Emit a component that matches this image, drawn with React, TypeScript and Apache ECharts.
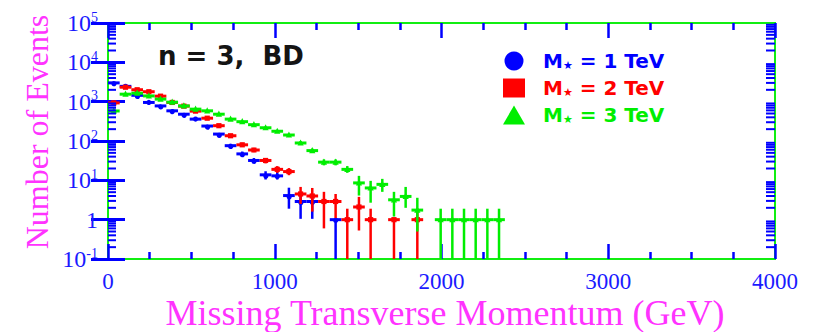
import React, { useEffect, useRef } from 'react';
import * as echarts from 'echarts';

// x-axis (Missing Transverse Momentum, GeV)
const xMin = 0;
const xMax = 4000;
const xInterval = 1000;
// y-axis (Number of Events, log scale)
const yMin = 0.1;
const yMax = 100000;
const logDecades = [0.1, 1, 10, 100, 1000, 10000];
const logMinorMantissas = [2, 3, 4, 5, 6, 7, 8, 9];
const halfBinWidth = 35;

// each point: [bin centre (GeV), events, error low, error high]; error low 0 = bar reaches the bottom
const pointsM1TeV = [
  [35, 3000, 3000, 3000],
  [105, 2450, 2450, 2450],
  [175, 1450, 1450, 1450],
  [245, 955, 955, 955],
  [315, 780, 780, 780],
  [385, 585, 585, 585],
  [455, 480, 480, 480],
  [525, 360, 360, 360],
  [595, 240, 240, 240],
  [665, 150, 150, 150],
  [735, 76, 68, 85],
  [805, 47, 41, 54],
  [875, 32, 27, 37],
  [945, 13.8, 10.5, 17],
  [1015, 13, 10.5, 16.5],
  [1085, 4.1, 1.9, 6.5],
  [1155, 2.9, 1.05, 4.5],
  [1225, 2.9, 1.05, 4.3],
  [1365, 1, 0, 1],
];

const pointsM2TeV = [
  [35, 930, 930, 930],
  [105, 2330, 2330, 2330],
  [175, 2010, 2010, 2010],
  [245, 1790, 1790, 1790],
  [315, 1380, 1380, 1380],
  [385, 955, 955, 955],
  [455, 770, 770, 770],
  [525, 575, 575, 575],
  [595, 380, 380, 380],
  [665, 245, 245, 245],
  [735, 136, 136, 136],
  [805, 80, 72, 90],
  [875, 59, 52, 67],
  [945, 32, 27, 37],
  [1015, 19, 15.5, 23],
  [1085, 16.7, 13.5, 20.5],
  [1155, 4.5, 2.5, 6.8],
  [1225, 4.0, 1.6, 6.4],
  [1295, 2.9, 0.6, 5.1],
  [1365, 2.9, 1.1, 4.5],
  [1435, 1, 0, 1.9],
  [1505, 2.1, 0.53, 3.8],
  [1575, 1, 0, 1.9],
  [1715, 1, 0, 1],
  [1855, 1, 0, 1.9],
];

const pointsM3TeV = [
  [35, 580, 580, 580],
  [105, 1550, 1550, 1550],
  [175, 1640, 1640, 1640],
  [245, 1400, 1400, 1400],
  [315, 1160, 1160, 1160],
  [385, 970, 970, 970],
  [455, 780, 780, 780],
  [525, 645, 645, 645],
  [595, 585, 585, 585],
  [665, 480, 480, 480],
  [735, 360, 360, 360],
  [805, 310, 310, 310],
  [875, 260, 260, 260],
  [945, 217, 217, 217],
  [1015, 177, 177, 177],
  [1085, 142, 142, 142],
  [1155, 89, 80, 99],
  [1225, 57, 50, 64],
  [1295, 29, 24, 34],
  [1365, 29, 24, 34],
  [1435, 19, 15.5, 23],
  [1505, 8.6, 4.1, 13],
  [1575, 6.4, 2.7, 9.7],
  [1645, 7.9, 5.1, 10.9],
  [1715, 3.2, 1.2, 5.1],
  [1785, 3.9, 2.0, 6.8],
  [1855, 1.75, 0.5, 3.6],
  [1995, 1, 0, 1.9],
  [2065, 1, 0, 1.9],
  [2135, 1, 0, 1.9],
  [2205, 1, 0, 1.9],
  [2275, 1, 0, 1.9],
  [2345, 1, 0, 1.9],
];

const seriesNames = ['M1', 'M2', 'M3'];
const legendValues = ['1 TeV', '2 TeV', '3 TeV'];
const seriesColors = ['#0000ff', '#ff0000', '#00ee00'];
const seriesSymbols = ['circle', 'rect', 'triangle'];
const seriesPoints = [pointsM1TeV, pointsM2TeV, pointsM3TeV];

const BLUE = '#0000ff';
const LABEL_BLUE = '#1a1aff';
const MAGENTA = '#ff33ff';
const FRAME_GREEN = '#11ee11';

function makeErrorRender(symbol: string) {
  return (params: any, api: any) => {
    const cs = params.coordSys;
    const bottom = cs.y + cs.height;
    const x = api.value(0);
    const y = api.value(1);
    const lo = api.value(2);
    const hi = api.value(3);
    const c = api.coord([x, y]);
    const l = api.coord([x - halfBinWidth, y]);
    const r = api.coord([x + halfBinWidth, y]);
    const yLo = lo > 0 ? api.coord([x, lo])[1] : bottom;
    const yHi = hi > 0 ? api.coord([x, hi])[1] : c[1];
    const color = api.visual('color');
    const children: any[] = [
      { type: 'line', shape: { x1: l[0], y1: c[1], x2: r[0], y2: c[1] }, style: { stroke: color, lineWidth: 3 } },
    ];
    if (Math.abs(yLo - yHi) > 0.5) {
      children.push({ type: 'line', shape: { x1: c[0], y1: yHi, x2: c[0], y2: yLo }, style: { stroke: color, lineWidth: 2.5 } });
    }
    const s = 2.6;
    if (symbol === 'circle') {
      children.push({ type: 'circle', shape: { cx: c[0], cy: c[1], r: s }, style: { fill: color } });
    } else if (symbol === 'rect') {
      children.push({ type: 'rect', shape: { x: c[0] - s, y: c[1] - s, width: 2 * s, height: 2 * s }, style: { fill: color } });
    } else {
      children.push({
        type: 'polygon',
        shape: { points: [[c[0], c[1] - s - 1], [c[0] - s - 0.5, c[1] + s], [c[0] + s + 0.5, c[1] + s]] },
        style: { fill: color },
      });
    }
    return { type: 'group', children };
  };
}

export default function App() {
  const ref = useRef<HTMLDivElement>(null);

  useEffect(() => {
    if (!ref.current) return;
    const chart = echarts.init(ref.current, undefined, { renderer: 'svg' });

    const minorTickValues: number[][] = [];
    logDecades.forEach((d) => logMinorMantissas.forEach((m) => minorTickValues.push([0, d * m])));

    const xAxisCommon = {
      type: 'value',
      min: xMin,
      max: xMax,
      interval: xInterval,
      splitLine: { show: false },
      axisLine: { show: false },
      axisTick: { show: true, inside: true, length: 15, lineStyle: { color: BLUE, width: 2.5 } },
      minorTick: { show: true, splitNumber: 4, length: 7, lineStyle: { color: BLUE, width: 2.5 } },
    };
    const yAxisCommon = {
      type: 'log',
      logBase: 10,
      min: yMin,
      max: yMax,
      splitNumber: 6,
      splitLine: { show: false },
      axisLine: { show: false },
      axisTick: { show: true, inside: true, length: 17, lineStyle: { color: BLUE, width: 3 } },
    };

    const option: any = {
      animation: false,
      grid: { left: 108, right: 39, top: 23, bottom: 73, show: true, borderColor: FRAME_GREEN, borderWidth: 2, backgroundColor: 'transparent' },
      xAxis: [
        {
          ...xAxisCommon,
          position: 'bottom',
          axisLabel: {
            color: LABEL_BLUE,
            fontFamily: 'Liberation Serif',
            fontSize: 23,
            margin: 11,
            lineHeight: 22,
            formatter: (v: number) => String(v),
          },
        },
        { ...xAxisCommon, position: 'top', axisLabel: { show: false } },
      ],
      yAxis: [
        {
          ...yAxisCommon,
          position: 'left',
          axisLabel: {
            margin: 10,
            formatter: (v: number) => {
              const e = Math.round(Math.log10(v));
              if (e === 0) return '{b|1}';
              return `{b|10}{s|${e}}`;
            },
            rich: {
              b: { fontFamily: 'Liberation Serif', fontSize: 24, color: LABEL_BLUE, lineHeight: 26 },
              s: { fontFamily: 'Liberation Serif', fontSize: 14, color: LABEL_BLUE, lineHeight: 14, verticalAlign: 'top' },
            },
          },
        },
        { ...yAxisCommon, position: 'right', axisLabel: { show: false } },
      ],
      legend: {
        orient: 'vertical',
        left: 498,
        top: 46,
        itemWidth: 22,
        itemHeight: 19,
        itemGap: 7,
        selectedMode: false,
        data: seriesNames.map((n, i) => ({
          name: n,
          icon: seriesSymbols[i],
          itemStyle: { color: seriesColors[i] },
          textStyle: { color: seriesColors[i] },
        })),
        formatter: (name: string) => {
          const i = seriesNames.indexOf(name);
          return `{m|M}{s|★}{t| = ${legendValues[i]}}`;
        },
        textStyle: {
          fontFamily: 'DejaVu Sans',
          fontWeight: 'bold',
          fontSize: 20,
          rich: {
            m: { fontFamily: 'DejaVu Sans', fontWeight: 'bold', fontSize: 20, lineHeight: 19, padding: [0, 0, 0, 13] },
            s: { fontFamily: 'DejaVu Sans', fontWeight: 'bold', fontSize: 11, lineHeight: 11, verticalAlign: 'bottom' },
            t: { fontFamily: 'DejaVu Sans', fontWeight: 'bold', fontSize: 20, lineHeight: 19 },
          },
        },
      },
      graphic: [
        {
          type: 'text',
          x: 158,
          y: 56,
          style: { text: 'n = 3,  BD', font: 'bold 26px "DejaVu Sans"', fill: '#141414', align: 'left', verticalAlign: 'middle' },
        },
        {
          type: 'text',
          x: 37,
          y: 132,
          rotation: Math.PI / 2,
          style: { text: 'Number of Events', font: '32px "Liberation Serif"', fill: MAGENTA, align: 'center', verticalAlign: 'middle' },
        },
        {
          type: 'text',
          x: 445,
          y: 313,
          style: { text: 'Missing Transverse Momentum (GeV)', font: '36px "Liberation Serif"', fill: MAGENTA, align: 'center', verticalAlign: 'middle' },
        },
      ],
      series: [
        ...seriesNames.map((n, i) => ({
          type: 'custom',
          name: n,
          xAxisIndex: 0,
          yAxisIndex: 0,
          silent: true,
          clip: true,
          itemStyle: { color: seriesColors[i] },
          encode: { x: 0, y: 1 },
          data: seriesPoints[i],
          renderItem: makeErrorRender(seriesSymbols[i]),
        })),
        {
          type: 'custom',
          name: 'logMinorTicks',
          xAxisIndex: 0,
          yAxisIndex: 0,
          silent: true,
          encode: { x: 0, y: 1 },
          data: minorTickValues,
          renderItem: (params: any, api: any) => {
            const cs = params.coordSys;
            const y = api.coord([0, api.value(1)])[1];
            return {
              type: 'group',
              children: [
                { type: 'line', shape: { x1: cs.x, y1: y, x2: cs.x + 8, y2: y }, style: { stroke: BLUE, lineWidth: 2 } },
                { type: 'line', shape: { x1: cs.x + cs.width - 9, y1: y, x2: cs.x + cs.width, y2: y }, style: { stroke: BLUE, lineWidth: 2 } },
              ],
            };
          },
        },
      ],
    };

    chart.setOption(option);
    return () => chart.dispose();
  }, []);

  return <div ref={ref} style={{ position: 'absolute', left: 0, top: 0, width: 814, height: 332 }} />;
}
